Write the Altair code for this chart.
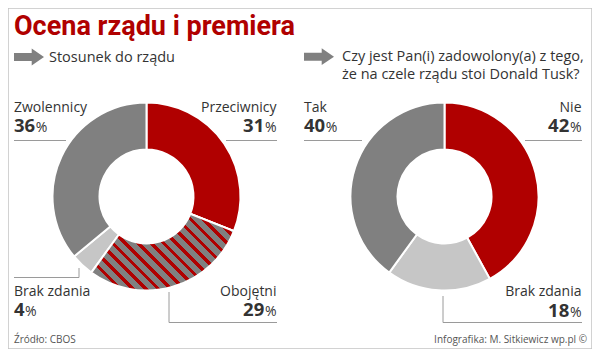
import altair as alt
import numpy as np
import pandas as pd

# ---------------- data ----------------
title_text = "Ocena rządu i premiera"
left_question = ["Stosunek do rządu"]
right_question = ["Czy jest Pan(i) zadowolony(a) z tego,", "że na czele rządu stoi Donald Tusk?"]

left_categories = ["Przeciwnicy", "Obojętni", "Brak zdania", "Zwolennicy"]
left_values = [31, 29, 4, 36]

right_categories = ["Nie", "Brak zdania", "Tak"]
right_values = [42, 18, 40]

hatched_category = "Obojętni"

source_note = "Źródło: CBOS"
credit_note = "Infografika: M. Sitkiewicz wp.pl ©"

# ---------------- style / layout ----------------
W, H = 584, 341
OFF = 8
RED = "#b00000"
GRAY = "#808080"
LIGHT = "#c6c6c6"
INK = "#333333"
RULE = "#9a9a9a"
FONT = "Open Sans"
TITLE_FONT = "Roboto"
R_OUT, R_IN = 94, 47
CENTERS = {"left": (146.5, 196.5), "right": (444.5, 196.5)}

NAME_SIZE, NUM_SIZE, PCT_SIZE = 14, 18.5, 14
DIGIT_W = 0.572 * NUM_SIZE
PCT_W = 0.84 * PCT_SIZE

color_domain = ["Przeciwnicy", "Obojętni", "Brak zdania", "Zwolennicy", "Nie", "Tak"]
color_range = [RED, GRAY, LIGHT, GRAY, RED, GRAY]

LABEL_POS = {
    ("left", "Przeciwnicy"): (276.5, 111.7, 132.3, "right"),
    ("left", "Obojętni"): (276.5, 296.0, 316.3, "right"),
    ("left", "Brak zdania"): (14.0, 295.7, 316.0, "left"),
    ("left", "Zwolennicy"): (14.0, 111.7, 132.3, "left"),
    ("right", "Nie"): (581.5, 111.7, 132.3, "right"),
    ("right", "Brak zdania"): (581.5, 296.0, 316.5, "right"),
    ("right", "Tak"): (304.0, 111.7, 132.3, "left"),
}

LEADERS = [
    (14, 140.5, 66, 140.5),
    (226, 140.5, 277, 140.5),
    (14, 277.5, 79, 277.5),
    (79, 268, 79, 277.5),
    (169, 292, 169, 322.5),
    (169, 322.5, 277, 322.5),
    (304, 140.5, 362, 140.5),
    (525, 140.5, 582, 140.5),
    (443, 296, 443, 322.5),
    (443, 322.5, 582, 322.5),
]

xs = alt.Scale(domain=[OFF, OFF + W], range=[0, W], nice=False, zero=False)
ys = alt.Scale(domain=[OFF, OFF + H], range=[0, H], nice=False, zero=False)
color_scale = alt.Scale(domain=color_domain, range=color_range)


def X(f):
    return alt.X(f, scale=xs, axis=None)


def Y(f):
    return alt.Y(f, scale=ys, axis=None)


# ---------------- donut tables ----------------
def donut_df(name, cats, vals):
    cx, cy = CENTERS[name]
    return pd.DataFrame({
        "donut": name, "cat": cats, "value": vals,
        "idx": list(range(len(cats))), "cx": cx, "cy": cy,
    })


left_df = donut_df("left", left_categories, left_values)
right_df = donut_df("right", right_categories, right_values)


def donut_layer(df):
    return alt.Chart(df).mark_arc(
        outerRadius=R_OUT, innerRadius=R_IN, stroke="white", strokeWidth=2
    ).encode(
        theta=alt.Theta("value:Q", stack=True),
        order=alt.Order("idx:Q"),
        fill=alt.Fill("cat:N", scale=color_scale, legend=None),
        x=X("cx:Q"), y=Y("cy:Q"),
    )


# hatch gradient for the hatched slice (45 degree stripes)
def hatch_gradient(cats, vals, target, period=9.0, red_w=3.3):
    total = float(sum(vals))
    i = cats.index(target)
    a0 = sum(vals[:i]) / total * 2 * np.pi
    a1 = sum(vals[: i + 1]) / total * 2 * np.pi
    angs = np.linspace(a0, a1, 500)
    px = np.concatenate([R_OUT * np.sin(angs), R_IN * np.sin(angs)])
    py = np.concatenate([-R_OUT * np.cos(angs), -R_IN * np.cos(angs)])
    wb, hb = px.max() - px.min(), py.max() - py.min()
    h = hb / wb
    k = (1 + h) / (1 + h * h)
    x1, y1 = 0.0, 1.0
    x2, y2 = x1 + k, y1 - k * h
    L = (wb + hb) / np.sqrt(2)
    stops = [{"offset": 0.0, "color": GRAY}]
    s = 2.0
    while s < L:
        a = round(s / L, 5)
        b = round(min(s + red_w, L) / L, 5)
        stops += [
            {"offset": a, "color": GRAY}, {"offset": a, "color": RED},
            {"offset": b, "color": RED}, {"offset": b, "color": GRAY},
        ]
        s += period
    stops.append({"offset": 1.0, "color": GRAY})
    return {"gradient": "linear", "x1": x1, "y1": y1, "x2": round(x2, 5), "y2": round(y2, 5), "stops": stops}


grad = hatch_gradient(left_categories, left_values, hatched_category)

hatch_layer = alt.Chart(left_df).mark_arc(
    outerRadius=R_OUT, innerRadius=R_IN, stroke="white", strokeWidth=2, fill=grad
).encode(
    theta=alt.Theta("value:Q", stack=True),
    order=alt.Order("idx:Q"),
    x=X("cx:Q"), y=Y("cy:Q"),
    opacity=alt.condition(f"datum.cat == '{hatched_category}'", alt.value(1), alt.value(0)),
)

# ---------------- labels ----------------
rows = []
for name, cats, vals in [("left", left_categories, left_values), ("right", right_categories, right_values)]:
    for c, v in zip(cats, vals):
        x, yn, yv, al = LABEL_POS[(name, c)]
        nd = len(str(v))
        if al == "left":
            num_x, pct_x = x, x + nd * DIGIT_W + 0.5
        else:
            num_x, pct_x = x - PCT_W - 0.5, x
        rows.append({"cat": c, "value": v, "align": al, "name_x": x, "name_y": yn,
                     "num_x": num_x, "num_y": yv, "pct_x": pct_x, "pct": "%"})
labels = pd.DataFrame(rows)

text_layers = []
for al in ["left", "right"]:
    sub = labels[labels["align"] == al]
    text_layers.append(alt.Chart(sub).mark_text(
        align=al, baseline="alphabetic", font=FONT, fontSize=NAME_SIZE, color=INK
    ).encode(x=X("name_x:Q"), y=Y("name_y:Q"), text="cat:N"))
    text_layers.append(alt.Chart(sub).mark_text(
        align=al, baseline="alphabetic", font=FONT, fontSize=NUM_SIZE, fontWeight="bold", color=INK
    ).encode(x=X("num_x:Q"), y=Y("num_y:Q"), text=alt.Text("value:Q", format="d")))
    text_layers.append(alt.Chart(sub).mark_text(
        align=al, baseline="alphabetic", font=FONT, fontSize=PCT_SIZE, color=INK
    ).encode(x=X("pct_x:Q"), y=Y("num_y:Q"), text="pct:N"))

leaders_df = pd.DataFrame(LEADERS, columns=["x", "y", "x2", "y2"])
leader_layer = alt.Chart(leaders_df).mark_rule(color=RULE, strokeWidth=1).encode(
    x=X("x:Q"), y=Y("y:Q"), x2="x2:Q", y2="y2:Q"
)

# ---------------- headings ----------------
title_layer = alt.Chart(pd.DataFrame({"t": [title_text], "x": [14], "y": [35]})).mark_text(
    align="left", baseline="alphabetic", font=TITLE_FONT, fontSize=27, fontWeight="bold", color=RED
).encode(x=X("x:Q"), y=Y("y:Q"), text="t:N")

q_rows = [{"t": left_question[0], "x": 49, "y": 62}]
for i, line in enumerate(right_question):
    q_rows.append({"t": line, "x": 342, "y": 61 + i * 18.3})
question_layer = alt.Chart(pd.DataFrame(q_rows)).mark_text(
    align="left", baseline="alphabetic", font=FONT, fontSize=14.5, color=INK
).encode(x=X("x:Q"), y=Y("y:Q"), text="t:N")

ARROW = "M -1 -0.27 L 0.18 -0.27 L 0.18 -0.56 L 1 0 L 0.18 0.56 L 0.18 0.27 L -1 0.27 Z"
arrow_layer = alt.Chart(pd.DataFrame({"x": [29, 319], "y": [57, 56.7]})).mark_point(
    shape=ARROW, size=900, filled=True, color=GRAY, opacity=1, strokeWidth=0
).encode(x=X("x:Q"), y=Y("y:Q"))

foot_left = alt.Chart(pd.DataFrame({"t": [source_note], "x": [14], "y": [343]})).mark_text(
    align="left", baseline="alphabetic", font=FONT, fontSize=10, color="#555555"
).encode(x=X("x:Q"), y=Y("y:Q"), text="t:N")
foot_right = alt.Chart(pd.DataFrame({"t": [credit_note], "x": [587], "y": [343]})).mark_text(
    align="right", baseline="alphabetic", font=FONT, fontSize=10, color="#555555"
).encode(x=X("x:Q"), y=Y("y:Q"), text="t:N")

chart = alt.layer(
    donut_layer(left_df), hatch_layer, donut_layer(right_df),
    leader_layer, *text_layers, title_layer, question_layer, arrow_layer,
    foot_left, foot_right,
).properties(
    width=W, height=H, padding=0, autosize=alt.AutoSizeParams(type="none"), background="white"
).configure_view(stroke="#c4c4c4", strokeWidth=1.5)

chart.save("out.html", embed_options={"renderer": "svg", "actions": False})
